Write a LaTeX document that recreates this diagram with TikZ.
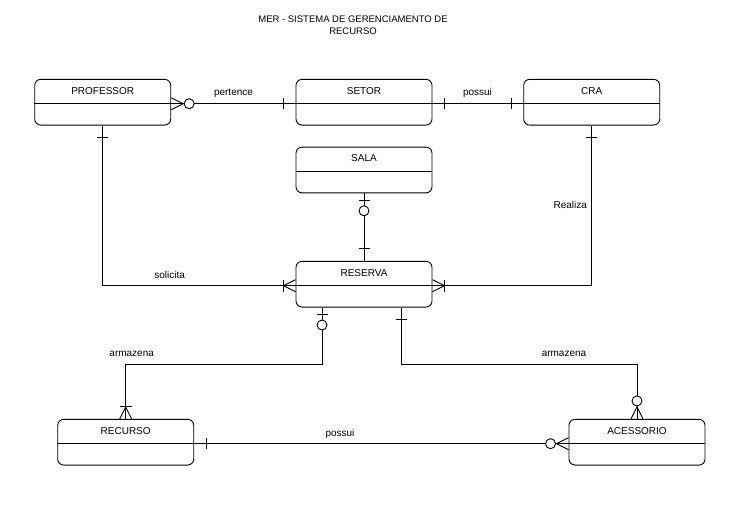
\documentclass[tikz,border=0pt]{standalone}
\usepackage{fontspec}
\setmainfont{Liberation Sans}
\usetikzlibrary{calc}
\tikzset{
  entity/.style={draw,rounded corners=6pt,minimum width=136pt,minimum height=45.7pt,inner sep=0pt},
  rotulo/.style={font=\fontsize{10}{12}\selectfont},
  mkone/.pic={\draw (12,-5.5) -- (12,5.5);},
  mkzeroone/.pic={\draw (7,-5.5) -- (7,5.5); \draw[fill=white] (17.5,0) circle (5pt);},
  mkonemany/.pic={\draw (0,-6) -- (12,0) -- (0,6); \draw (12,-6) -- (12,6);},
  mkzeromany/.pic={\draw (0,-6) -- (12,0) -- (0,6); \draw[fill=white] (18,0) circle (5pt);},
}

\begin{document}
\begin{tikzpicture}[x=1pt,y=-1pt,line width=0.9pt]
  \useasboundingbox (0,0) rectangle (749,515);

  % Title
  \node[font=\fontsize{9.5}{12}\selectfont,align=center] (titulo) at (353,25) {MER - SISTEMA DE GERENCIAMENTO DE\\RECURSO};

  % Entities
  \foreach \n/\x/\y/\nome in {prof/102.7/102.2/PROFESSOR, setor/364/102.2/SETOR, cra/591.7/102.2/CRA,
      sala/364/170/SALA, reserva/364/284.2/RESERVA, recurso/125.7/442.2/RECURSO, acess/637/442.2/ACESSORIO} {
    \node[entity] (\n) at (\x,\y) {};
    \draw ([yshift=-1.5pt]\n.west) -- ([yshift=-1.5pt]\n.east);
    \node[rotulo] (\n-t) at ([yshift=11.5pt]\n.center) {\nome};
  }

  % Relationships
  \draw ([yshift=-1.5pt]prof.east) -- ([yshift=-1.5pt]setor.west);
  \draw ([yshift=-1.5pt]setor.east) -- ([yshift=-1.5pt]cra.west);
  \draw (prof.south) |- ([yshift=-1.5pt]reserva.west);
  \draw (cra.south) |- ([yshift=-1.5pt]reserva.east);
  \draw (sala.south) -- (reserva.north);
  \draw ([xshift=-42pt]reserva.south) -- ++(0,56.5) -| (recurso.north);
  \draw ([xshift=37pt]reserva.south) -- ++(0,56.5) -| (acess.north);
  \draw ([yshift=-1.5pt]recurso.east) -- ([yshift=-1.5pt]acess.west);

  % Cardinalities
  \pic at ([yshift=-1.5pt]prof.east) {mkzeromany};
  \pic[rotate=180] at ([yshift=-1.5pt]setor.west) {mkone};
  \pic at ([yshift=-1.5pt]setor.east) {mkone};
  \pic[rotate=180] at ([yshift=-1.5pt]cra.west) {mkone};
  \pic[rotate=-90] at (prof.south) {mkone};
  \pic[rotate=180] at ([yshift=-1.5pt]reserva.west) {mkonemany};
  \pic[rotate=-90] at (cra.south) {mkone};
  \pic at ([yshift=-1.5pt]reserva.east) {mkonemany};
  \pic[rotate=-90] at (sala.south) {mkzeroone};
  \pic[rotate=90] at (reserva.north) {mkone};
  \pic[rotate=-90] at ([xshift=-42pt]reserva.south) {mkzeroone};
  \pic[rotate=90] at (recurso.north) {mkonemany};
  \pic[rotate=-90] at ([xshift=37pt]reserva.south) {mkone};
  \pic[rotate=90] at (acess.north) {mkzeromany};
  \pic at ([yshift=-1.5pt]recurso.east) {mkone};
  \pic[rotate=180] at ([yshift=-1.5pt]acess.west) {mkzeromany};

  % Labels
  \node[rotulo] (l-pertence) at (233.5,93) {pertence};
  \node[rotulo] (l-possui1) at (477.5,93) {possui};
  \node[rotulo] (l-solicita) at (169.7,274.5) {solicita};
  \node[rotulo] (l-realiza) at (570.3,205) {Realiza};
  \node[rotulo] (l-armazena1) at (131.7,354) {armazena};
  \node[rotulo] (l-armazena2) at (564,354) {armazena};
  \node[rotulo] (l-possui2) at (340,433.5) {possui};
\end{tikzpicture}
\end{document}
